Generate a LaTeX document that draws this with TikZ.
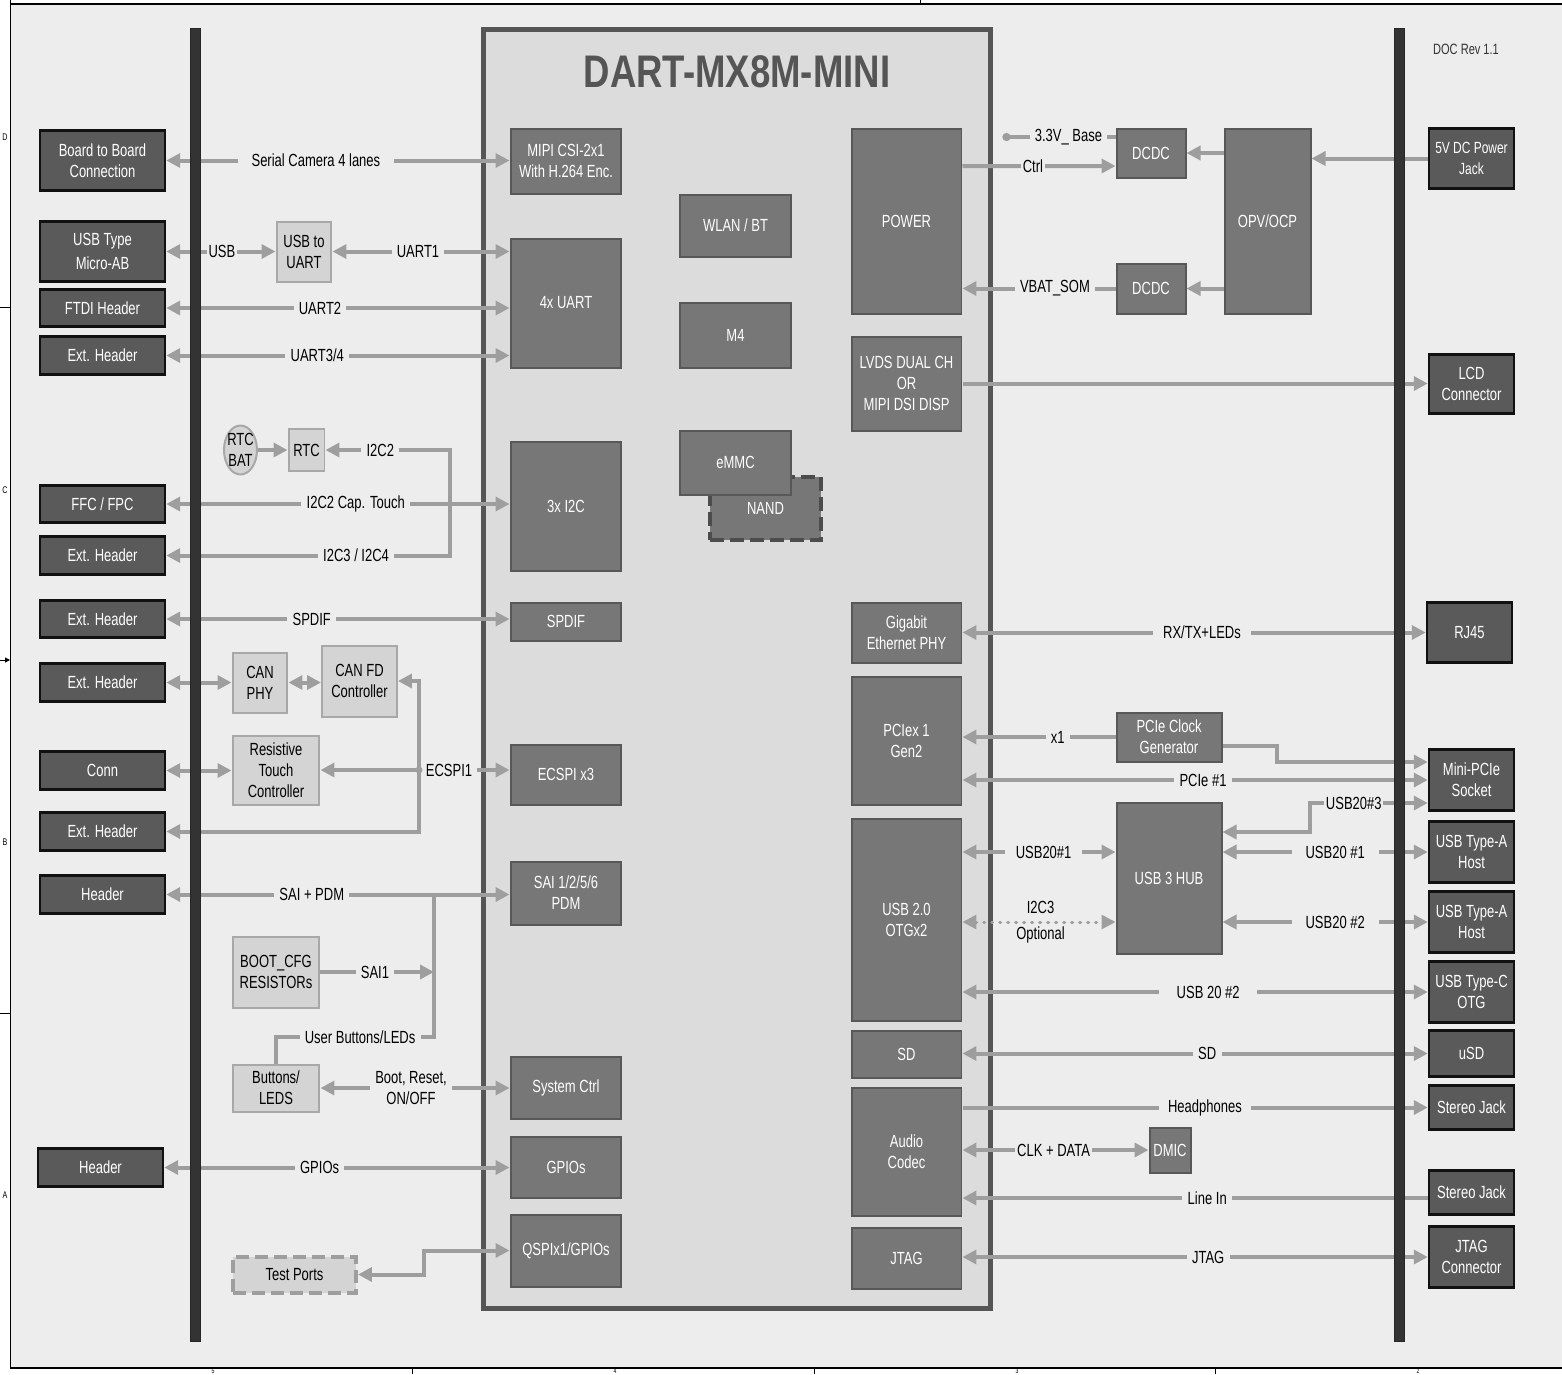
\documentclass[tikz,border=0pt]{standalone}
\usepackage{fontspec}
\setmainfont[FakeStretch=0.74]{Liberation Sans}
\newfontfamily\titlefont[FakeStretch=0.8]{Liberation Sans}
\usepackage{tikz}
\usetikzlibrary{arrows.meta,shapes.geometric}
\definecolor{bgcol}{HTML}{EDEDED}
\definecolor{somfill}{HTML}{DCDCDC}
\definecolor{somedge}{HTML}{555555}
\definecolor{socfill}{HTML}{777777}
\definecolor{socedge}{HTML}{585858}
\definecolor{extfill}{HTML}{5A5A5A}
\definecolor{extedge}{HTML}{111111}
\definecolor{auxfill}{HTML}{D4D4D4}
\definecolor{auxedge}{HTML}{A8A8A8}
\definecolor{wire}{HTML}{9E9E9E}
\definecolor{buscol}{HTML}{333333}
\tikzset{extblock/.style={draw=extedge, fill=extfill, line width=0.05cm, rectangle, text=white,
		align=center, inner sep=1pt, minimum width=2.5cm},
	socblock/.style={draw=socedge, fill=socfill, line width=0.04cm, rectangle, text=white,
		align=center, inner sep=1pt},
	auxblock/.style={draw=auxedge, fill=auxfill, line width=0.04cm, rectangle, text=black,
		align=center, inner sep=1pt},
	bus/.style={draw=black!85, fill=buscol, line width=0.02cm, minimum width=0.2cm,
		minimum height=26.26cm, inner sep=0pt},
	lbl/.style={fill=bgcol, text=black, inner xsep=3pt, inner ysep=1pt, align=center},
	line/.style={draw=wire, line width=0.08cm},
	arrow/.style={line, -{Triangle[length=0.28cm,width=0.28cm]}},
	dblarrow/.style={line, {Triangle[length=0.28cm,width=0.28cm]}-{Triangle[length=0.28cm,width=0.28cm]}},
	dotarrow/.style={draw=wire, line width=0.06cm, line cap=round, dash pattern=on 0.02cm off 0.14cm,
		{Triangle[length=0.28cm,width=0.28cm]}-{Triangle[length=0.28cm,width=0.28cm]}},
	edgemark/.style={font=\fontsize{5.5}{6}\selectfont},
	digitmark/.style={font=\fontsize{4}{4.5}\selectfont, anchor=south, inner sep=0pt}}

\begin{document}
\begin{tikzpicture}[x=0.02cm,y=-0.02cm,font=\fontsize{10}{12}\selectfont]
	\useasboundingbox (0,0) rectangle (1562,1374);
	\fill [bgcol] (11,5) rectangle (1562,1367);
	\draw [line width=0.03cm] (11,4) -- (1562,4);
	\draw [line width=0.03cm] (10.5,0) -- (10.5,1368) -- (1562,1368);
	\draw [line width=0.02cm] (0,307) -- (10.5,307) (0,1013) -- (10.5,1013) (920,0) -- (920,4)
		(412,1368) -- (412,1374) (814,1368) -- (814,1374) (1215,1368) -- (1215,1374);
	\draw [line width=0.02cm, -{Triangle[length=0.1cm,width=0.1cm]}] (0,660) -- (10,660);
	\node [edgemark](markd) at (5,137){D};
	\node [edgemark](markc) at (5,490){C};
	\node [edgemark](markb) at (5,842){B};
	\node [edgemark](marka) at (5,1195){A};
	\node [digitmark](markfive) at (213,1374){5};
	\node [digitmark](markfour) at (615,1374){4};
	\node [digitmark](markthree) at (1017,1374){3};
	\node [digitmark](marktwo) at (1418,1374){2};
	
	\node [draw=somedge, fill=somfill, line width=0.1cm, minimum width=10.14cm, minimum height=25.58cm](som) at (737,669){};
	\node [text=somedge, font=\titlefont\bfseries\fontsize{26}{30}\selectfont](title) at (737,72){DART-MX8M-MINI};
	\node [font=\fontsize{8.5}{10}\selectfont, text=black!80](docrev) at (1466,49){DOC Rev 1.1};
	
	\node [extblock, minimum height=1.2cm](b2b) at (102.5,160.5){Board to Board\\Connection};
	\node [extblock, minimum height=1.2cm](usbab) at (102.5,251.5){USB Type\\[2pt]Micro-AB};
	\node [extblock, minimum height=0.74cm](ftdi) at (102.5,308){FTDI Header};
	\node [extblock, minimum height=0.76cm](exthdra) at (102.5,355.5){Ext. Header};
	\node [extblock, minimum height=0.74cm](ffc) at (102.5,504){FFC / FPC};
	\node [extblock, minimum height=0.76cm](exthdrb) at (102.5,555.5){Ext. Header};
	\node [extblock, minimum height=0.74cm](exthdrc) at (102.5,619){Ext. Header};
	\node [extblock, minimum height=0.76cm](exthdrd) at (102.5,682.5){Ext. Header};
	\node [extblock, minimum height=0.76cm](conn) at (102.5,770.5){Conn};
	\node [extblock, minimum height=0.76cm](exthdre) at (102.5,831.5){Ext. Header};
	\node [extblock, minimum height=0.76cm](hdra) at (102.5,894.5){Header};
	\node [extblock, minimum height=0.76cm](hdrb) at (100.5,1167.5){Header};
	
	\node [auxblock, minimum width=1.1cm, minimum height=1.2cm](usbuart) at (304,251.5){USB to\\UART};
	\node [auxblock, ellipse, inner sep=-1pt, minimum width=0.66cm, minimum height=0.98cm](rtcbat) at (240.5,450){RTC\\BAT};
	\node [auxblock, minimum width=0.72cm, minimum height=0.84cm](rtc) at (306.5,450){RTC};
	\node [auxblock, minimum width=1.1cm, minimum height=1.2cm](canphy) at (260,682.5){CAN\\PHY};
	\node [auxblock, minimum width=1.5cm, minimum height=1.42cm](canfd) at (359.5,681){CAN FD\\Controller};
	\node [auxblock, minimum width=1.74cm, minimum height=1.38cm](restouch) at (276,770){Resistive\\Touch\\Controller};
	\node [auxblock, minimum width=1.74cm, minimum height=1.42cm](bootcfg) at (276,972){BOOT\_CFG\\RESISTORs};
	\node [auxblock, minimum width=1.74cm, minimum height=0.94cm](buttons) at (276,1088){Buttons/\\LEDS};
	\node [auxblock, draw=wire, line width=0.08cm, dash pattern=on 0.26cm off 0.12cm, minimum width=2.46cm, minimum height=0.72cm](testports) at (294.5,1274.5){Test Ports};
	
	\node [socblock, minimum width=2.22cm, minimum height=1.3cm](mipi) at (566,161){MIPI CSI-2x1\\With H.264 Enc.};
	\node [socblock, minimum width=2.22cm, minimum height=2.58cm](uart) at (566,303){4x UART};
	\node [socblock, minimum width=2.22cm, minimum height=2.58cm](itwoc) at (566,506){3x I2C};
	\node [socblock, minimum width=2.22cm, minimum height=0.76cm](spdif) at (566,621.5){SPDIF};
	\node [socblock, minimum width=2.22cm, minimum height=1.2cm](ecspi) at (566,774.5){ECSPI x3};
	\node [socblock, minimum width=2.22cm, minimum height=1.26cm](sai) at (566,893){SAI 1/2/5/6\\PDM};
	\node [socblock, minimum width=2.22cm, minimum height=1.24cm](sysctrl) at (566,1087.5){System Ctrl};
	\node [socblock, minimum width=2.22cm, minimum height=1.22cm](gpio) at (566,1167){GPIOs};
	\node [socblock, minimum width=2.22cm, minimum height=1.44cm](qspi) at (566,1250.5){QSPIx1/GPIOs};
	
	\node [socblock, minimum width=2.24cm, minimum height=1.24cm](wlan) at (735.5,225.5){WLAN / BT};
	\node [socblock, minimum width=2.24cm, minimum height=1.3cm](mfour) at (735.5,335){M4};
	\node [socblock, draw=black!70, line width=0.08cm, dash pattern=on 0.28cm off 0.12cm, minimum width=2.22cm, minimum height=1.26cm](nand) at (765.5,508.5){NAND};
	\node [socblock, minimum width=2.24cm, minimum height=1.28cm](emmc) at (735.5,462.5){eMMC};
	
	\node [socblock, minimum width=2.2cm, minimum height=3.72cm](power) at (906.5,221.5){POWER};
	\node [socblock, minimum width=2.2cm, minimum height=1.88cm](lvds) at (906.5,383.5){LVDS DUAL CH\\OR\\MIPI DSI DISP};
	\node [socblock, minimum width=2.2cm, minimum height=1.2cm](gbe) at (906.5,632.5){Gigabit\\Ethernet PHY};
	\node [socblock, minimum width=2.2cm, minimum height=2.56cm](pcie) at (906.5,740.5){PCIex 1\\Gen2};
	\node [socblock, minimum width=2.2cm, minimum height=4.04cm](usbotg) at (906.5,919.5){USB 2.0\\OTGx2};
	\node [socblock, minimum width=2.2cm, minimum height=0.94cm](sd) at (906.5,1054){SD};
	\node [socblock, minimum width=2.2cm, minimum height=2.56cm](audio) at (906.5,1151.5){Audio\\Codec};
	\node [socblock, minimum width=2.2cm, minimum height=1.22cm](jtag) at (906.5,1258){JTAG};
	
	\node [socblock, minimum width=1.38cm, minimum height=0.98cm](dcdca) at (1151,153){DCDC};
	\node [socblock, minimum width=1.38cm, minimum height=1cm](dcdcb) at (1151,288.5){DCDC};
	\node [socblock, minimum width=1.72cm, minimum height=3.72cm](opv) at (1267.5,221.5){OPV/OCP};
	\node [socblock, minimum width=2.1cm, minimum height=0.98cm](pcieclk) at (1169,737){PCIe Clock\\Generator};
	\node [socblock, minimum width=2.1cm, minimum height=3.02cm](hub) at (1169,878){USB 3 HUB};
	\node [socblock, minimum width=0.82cm, minimum height=0.9cm](dmic) at (1170,1150){DMIC};
	
	\node [extblock, minimum width=1.7cm, minimum height=1.2cm, font=\fontsize{9.2}{12}\selectfont](jack) at (1471.5,158.5){5V DC Power\\Jack};
	\node [extblock, minimum width=1.7cm, minimum height=1.18cm](lcd) at (1471.5,384){LCD\\Connector};
	\node [extblock, minimum width=1.7cm, minimum height=1.2cm](rj) at (1469.5,632.5){RJ45};
	\node [extblock, minimum width=1.7cm, minimum height=1.22cm](minipcie) at (1471.5,780){Mini-PCIe\\Socket};
	\node [extblock, minimum width=1.7cm, minimum height=1.22cm](usbta) at (1471.5,852){USB Type-A\\Host};
	\node [extblock, minimum width=1.7cm, minimum height=1.22cm](usbtb) at (1471.5,922){USB Type-A\\Host};
	\node [extblock, minimum width=1.7cm, minimum height=1.22cm](usbtc) at (1471.5,992){USB Type-C\\OTG};
	\node [extblock, minimum width=1.7cm, minimum height=0.92cm](usd) at (1471.5,1053.5){uSD};
	\node [extblock, minimum width=1.7cm, minimum height=0.88cm](stjacka) at (1471.5,1107.5){Stereo Jack};
	\node [extblock, minimum width=1.7cm, minimum height=0.88cm](stjackb) at (1471.5,1192.5){Stereo Jack};
	\node [extblock, minimum width=1.7cm, minimum height=1.22cm](jtagconn) at (1471.5,1257){JTAG\\Connector};
	
	\coordinate (itwocjoint) at (450,504);
	\coordinate (spijoint) at (419,770);
	\coordinate (saijoint) at (434,894.5);
	\coordinate (ledcorner) at (276,1037);
	
	\draw [dblarrow] (b2b.east) -- node[lbl, pos=0.436, inner xsep=8pt]{Serial Camera 4 lanes} (mipi.west |- b2b.east);
	\draw [dblarrow] (usbab.east) -- node[lbl, pos=0.51, inner xsep=1pt]{USB} (usbuart.west);
	\draw [dblarrow] (usbuart.east) -- node[lbl, pos=0.483]{UART1} (uart.west |- usbuart.east);
	\draw [dblarrow] (ftdi.east) -- node[lbl, pos=0.448]{UART2} (uart.west |- ftdi.east);
	\draw [dblarrow] (exthdra.east) -- node[lbl, pos=0.44]{UART3/4} (uart.west |- exthdra.east);
	
	\draw [arrow] (rtcbat.east) -- (rtc.west);
	\draw [dblarrow] (rtc.east) -- node[lbl, pos=0.44]{I2C2} (rtc.east -| itwocjoint) -- (exthdrb.east -| itwocjoint) -- node[lbl, pos=0.331]{I2C3 / I2C4} (exthdrb.east);
	\draw [dblarrow] (ffc.east) -- node[lbl, pos=0.552]{I2C2 Cap. Touch} (itwoc.west |- ffc.east);
	\draw [dblarrow] (exthdrc.east) -- node[lbl, pos=0.424]{SPDIF} (spdif.west |- exthdrc.east);
	
	\draw [dblarrow] (exthdrd.east) -- (canphy.west);
	\draw [dblarrow] (canphy.east) -- (canfd.west |- canphy.east);
	\draw [dblarrow] (conn.east) -- (restouch.west |- conn.east);
	\draw [dblarrow] (restouch.east) -- node[lbl, pos=0.68]{ECSPI1} (ecspi.west |- restouch.east);
	\draw [dblarrow] (canfd.east) -- (canfd.east -| spijoint) -- (exthdre.east -| spijoint) -- (exthdre.east);
	\fill [wire] (spijoint) circle (0.07cm);
	
	\draw [dblarrow] (hdra.east) -- node[lbl, pos=0.424]{SAI + PDM} (sai.west |- hdra.east);
	\draw [line] (saijoint) |- node[lbl, pos=0.734]{User Buttons/LEDs} (ledcorner) -- (buttons.north);
	\draw [arrow] (bootcfg.east) -- node[lbl, pos=0.48]{SAI1} (saijoint |- bootcfg.east);
	\draw [dblarrow] (buttons.east) -- node[lbl, pos=0.479]{Boot, Reset,\\ON/OFF} (sysctrl.west |- buttons.east);
	\draw [dblarrow] (hdrb.east) -- node[lbl, pos=0.45]{GPIOs} (gpio.west |- hdrb.east);
	\draw [dblarrow] (testports.east) -| ([xshift=-1.72cm]qspi.west) -- (qspi.west);
	
	\draw [line, -{Circle[length=0.16cm]}] ([yshift=0.32cm]dcdca.west) -- node[lbl, pos=0.416]{3.3V\_ Base} ++(-113,0);
	\draw [arrow] ([yshift=1.11cm]power.east) -- node[lbl, pos=0.46, inner xsep=1pt]{Ctrl} ([yshift=-0.26cm]dcdca.west);
	\draw [arrow] (dcdcb.west) -- node[lbl, pos=0.396]{VBAT\_SOM} (power.east |- dcdcb.west);
	\draw [arrow] (opv.west |- dcdca.east) -- (dcdca.east);
	\draw [arrow] (opv.west |- dcdcb.east) -- (dcdcb.east);
	\draw [arrow] (jack.west) -- (opv.east |- jack.west);
	\draw [arrow] (lvds.east) -- (lcd.west |- lvds.east);
	
	\draw [dblarrow] (gbe.east) -- node[lbl, pos=0.517, inner xsep=6pt]{RX/TX+LEDs} (rj.west |- gbe.east);
	\draw [arrow] (pcieclk.west) -- node[lbl, pos=0.377]{x1} (pcie.east |- pcieclk.west);
	\draw [arrow] ([yshift=-0.18cm]pcieclk.east) -- ++(54,0) |- ([yshift=0.36cm]minipcie.west);
	\draw [dblarrow] (pcie.east |- minipcie.west) -- node[lbl, pos=0.517]{PCIe \#1} (minipcie.west);
	\draw [dblarrow] ([yshift=-0.46cm]minipcie.west) -- node[lbl, pos=0.627, inner xsep=1pt]{USB20\#3} ++(-118,0) |- ([yshift=0.92cm]hub.east);
	\draw [dblarrow] (usbotg.east |- usbta.west) -- node[lbl, pos=0.53, inner xsep=6pt]{USB20\#1} (hub.west |- usbta.west);
	\draw [dblarrow] (hub.east |- usbta.west) -- node[lbl, pos=0.549, inner xsep=8pt]{USB20 \#1} (usbta.west);
	\draw [dotarrow] (usbotg.east |- usbtb.west) -- node[pos=0.51, align=center, inner sep=0pt]{I2C3\\[3pt]Optional} (hub.west |- usbtb.west);
	\draw [dblarrow] (hub.east |- usbtb.west) -- node[lbl, pos=0.549, inner xsep=8pt]{USB20 \#2} (usbtb.west);
	\draw [dblarrow] (usbotg.east |- usbtc.west) -- node[lbl, pos=0.528, inner xsep=10pt]{USB 20 \#2} (usbtc.west);
	\draw [dblarrow] (sd.east |- usd.west) -- node[lbl, pos=0.526]{SD} (usd.west);
	\draw [arrow] (audio.east |- stjacka.west) -- node[lbl, pos=0.521, inner xsep=5pt]{Headphones} (stjacka.west);
	\draw [dblarrow] (audio.east |- dmic.west) -- node[lbl, pos=0.49, inner xsep=1pt]{CLK + DATA} (dmic.west);
	\coordinate (linein) at ([yshift=-0.11cm]stjackb.west);
	\draw [arrow] (linein) -- node[lbl, pos=0.474]{Line In} (audio.east |- linein);
	\draw [dblarrow] (jtag.east |- jtagconn.west) -- node[lbl, pos=0.528]{JTAG} (jtagconn.west);
	
	\node [bus](leftbus) at (195.5,685){};
	\node [bus](rightbus) at (1399,685){};
\end{tikzpicture}
\end{document}
